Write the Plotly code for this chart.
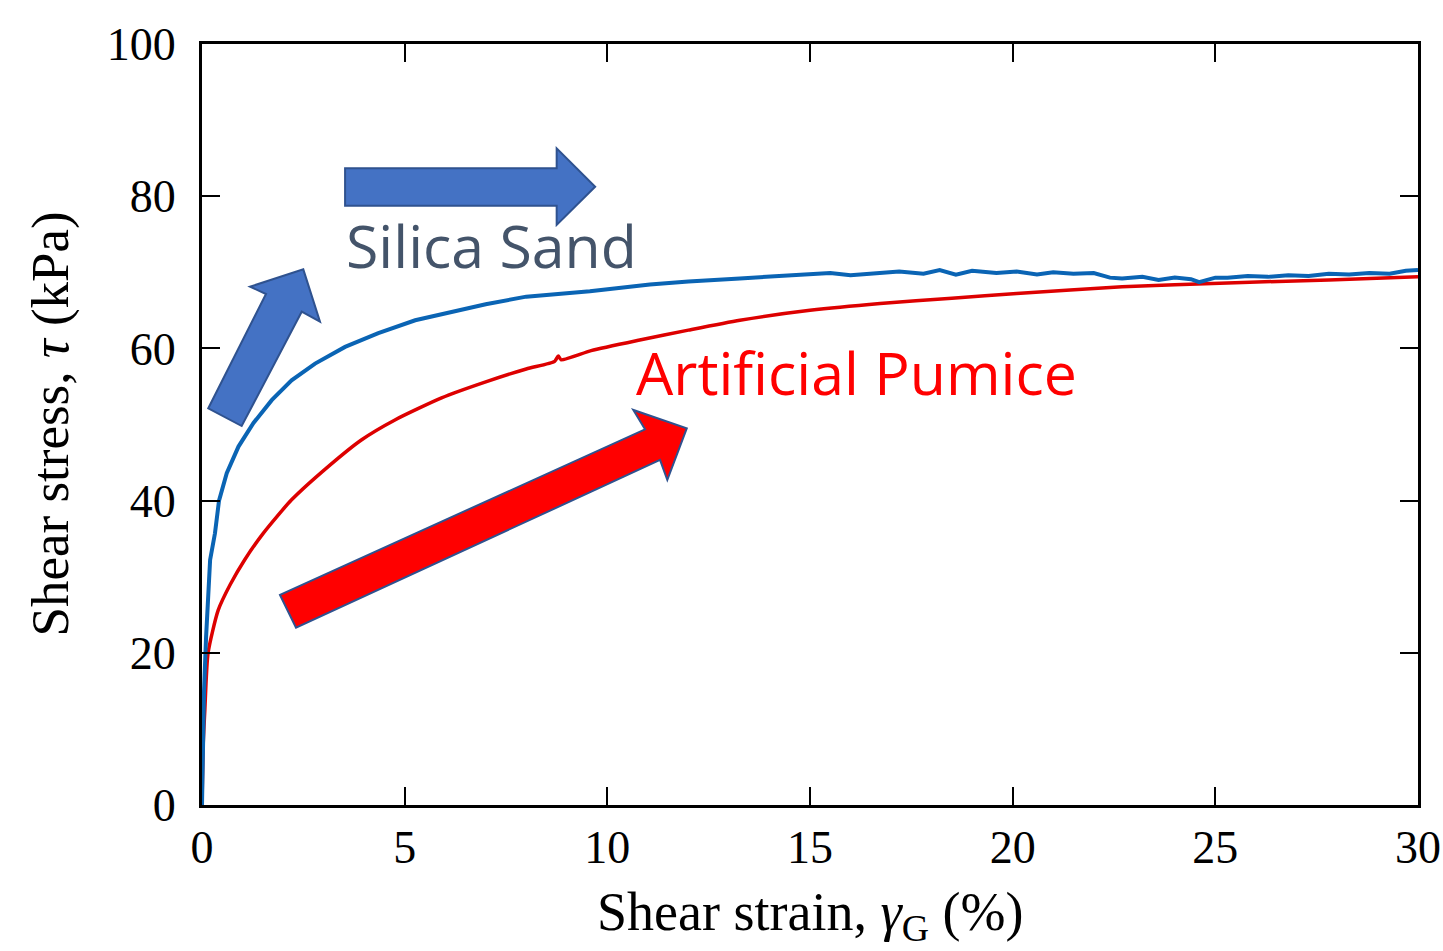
import plotly.graph_objects as go

# ---- data ----
sand_strain = [0, 0.02, 0.05, 0.1, 0.15, 0.2, 0.32, 0.42, 0.61, 0.9, 1.27, 1.72, 2.21, 2.79,
               3.53, 4.35, 5.26, 6.0, 7.0, 8.0, 9.57, 11.05, 12.0, 13.27, 14.0, 14.8,
               15.5, 16.0, 16.73, 17.2, 17.8, 18.2, 18.6, 19.0, 19.6, 20.1, 20.6, 21.0,
               21.5, 22.0, 22.4, 22.7, 23.2, 23.6, 24.0, 24.4, 24.6, 25.0, 25.3, 25.8,
               26.3, 26.8, 27.3, 27.8, 28.3, 28.8, 29.3, 29.7, 30.0]
sand_stress = [0, 8, 15, 22, 28.0, 32.2, 35.7, 40.0, 43.6, 47.1, 50.2, 53.2, 55.8, 58.0,
               60.2, 62.0, 63.7, 64.6, 65.8, 66.8, 67.5, 68.4, 68.8, 69.2, 69.4, 69.6,
               69.9, 69.6, 69.9, 70.1, 69.8, 70.3, 69.7, 70.2, 69.9, 70.1, 69.7, 70.0,
               69.8, 69.9, 69.3, 69.2, 69.4, 69.0, 69.3, 69.1, 68.7, 69.3, 69.3, 69.5,
               69.4, 69.6, 69.5, 69.8, 69.7, 69.9, 69.8, 70.2, 70.3]

pumice_strain = [0, 0.03, 0.07, 0.15, 0.4, 0.7, 1.05, 1.51, 2.21, 3.12, 3.94, 4.76,
                 5.91, 7.0, 8.0, 8.7, 8.79, 8.86, 9.6, 10.8, 12.0, 13.27, 15.0, 16.73,
                 18.5, 20.1, 22.7, 25.3, 27.8, 30.0]
pumice_stress = [0, 8, 12.5, 20, 25.6, 29.0, 32.2, 35.7, 40.1, 44.5, 48.0, 50.6,
                 53.5, 55.6, 57.3, 58.3, 59.0, 58.5, 59.7, 61.1, 62.4, 63.7, 65.0, 65.9,
                 66.6, 67.2, 68.1, 68.6, 69.0, 69.4]

x_ticks = [0, 5, 10, 15, 20, 25, 30]
y_ticks = [0, 20, 40, 60, 80, 100]

fig = go.Figure()
fig.add_trace(go.Scatter(x=pumice_strain, y=pumice_stress, mode="lines",
                         line=dict(color="#DD0000", width=3.5, shape="spline", smoothing=0.6),
                         name="Artificial Pumice"))
fig.add_trace(go.Scatter(x=sand_strain, y=sand_stress, mode="lines",
                         line=dict(color="#0A64B4", width=4), name="Silica Sand"))


def path(pts):
    return "M " + " L ".join(f"{x},{y}" for x, y in pts) + " Z"

arrow_line = dict(color="#2F528F", width=2)
# horizontal blue arrow
fig.add_shape(type="path", xref="x", yref="y", layer="above",
              path=path([(3.53, 83.67), (8.75, 83.67), (8.75, 86.29), (9.70, 81.25),
                         (8.75, 76.22), (8.75, 78.75), (3.53, 78.75)]),
              fillcolor="#4472C4", line=arrow_line)
# diagonal blue arrow
fig.add_shape(type="path", xref="x", yref="y", layer="above",
              path=path([(0.155, 52.13), (1.579, 67.15), (1.184, 68.11), (2.499, 70.39),
                         (2.911, 63.51), (2.460, 64.82), (0.979, 49.80)]),
              fillcolor="#4472C4", line=arrow_line)
# red arrow
fig.add_shape(type="path", xref="x", yref="y", layer="above",
              path=path([(1.924, 27.60), (10.93, 49.37), (10.64, 51.91), (11.96, 49.50),
                         (11.48, 42.71), (11.30, 45.34), (2.319, 23.30)]),
              fillcolor="#FF0000", line=arrow_line)

fig.add_annotation(text="Silica Sand", x=3.50, y=73.6, xref="x", yref="y",
                   xanchor="left", yanchor="middle", showarrow=False,
                   font=dict(family="Open Sans", size=59, color="#44546A"))
fig.add_annotation(text="Artificial Pumice", x=10.66, y=56.9, xref="x", yref="y",
                   xanchor="left", yanchor="middle", showarrow=False,
                   font=dict(family="Open Sans", size=59, color="#FF0000"))

serif = "Liberation Serif"
fig.add_annotation(text="Shear strain, <i>γ</i><sub>G</sub> (%)", x=0.5, y=0,
                   xref="paper", yref="paper", yanchor="middle", xanchor="center",
                   yshift=-110, showarrow=False,
                   font=dict(family=serif, size=54, color="black"))
fig.add_annotation(text="Shear stress, <i>τ</i> (kPa)", x=0, y=0.5,
                   xref="paper", yref="paper", yanchor="middle", xanchor="center",
                   xshift=-152, textangle=-90, showarrow=False,
                   font=dict(family=serif, size=53, color="black"))

axis_common = dict(showline=True, linecolor="black", linewidth=3, mirror="ticks",
                   ticks="inside", ticklen=18, tickwidth=2, tickcolor="black",
                   showgrid=False, zeroline=False, ticklabeloverflow="allow",
                   automargin=False,
                   tickfont=dict(family=serif, size=46, color="black"))
fig.update_xaxes(range=[0, 30], tickvals=x_ticks, ticktext=[str(v) for v in x_ticks],
                 ticklabelstandoff=0, **axis_common)
fig.update_yaxes(range=[0, 100], tickvals=y_ticks, ticktext=[str(v) for v in y_ticks],
                 ticklabelstandoff=14, **axis_common)

fig.update_layout(width=1443, height=951, showlegend=False,
                  paper_bgcolor="white", plot_bgcolor="white",
                  margin=dict(l=202, r=25, t=44, b=146, autoexpand=False))
fig.write_html("out.html", config={"displayModeBar": False},
               post_script="document.body.style.margin='0';document.body.style.overflow='hidden';")
